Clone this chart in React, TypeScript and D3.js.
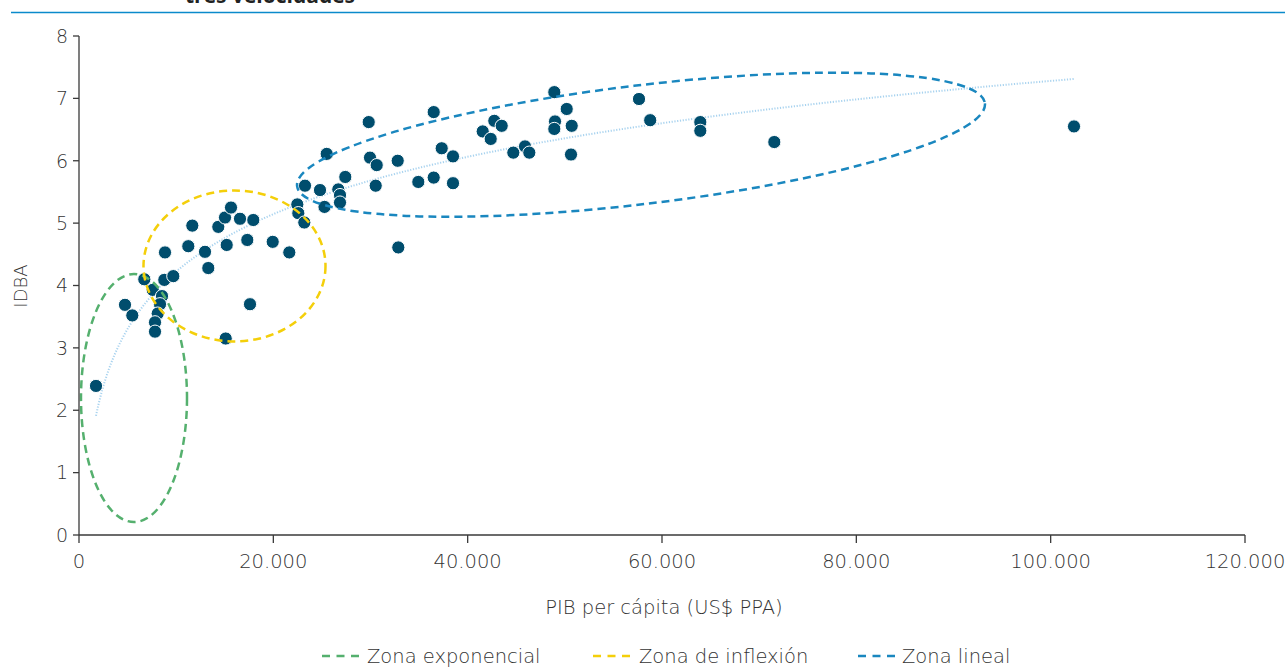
import React from "react";
import * as d3 from "d3";

// GDP per capita (US$ PPP) and IDBA values
const gdpPerCapita: number[] = [
  1750, 4734, 5485, 6720, 7585, 8542, 8336, 8100, 7822, 7822,
  8779, 9705, 8851, 11249, 11661, 12967, 13307, 14336, 15026, 15643,
  15201, 16569, 17321, 17938, 15098, 17599, 19935, 21643, 22467, 22570,
  23187, 23259, 24803, 25266, 25492, 26686, 26861, 26861, 27406, 29815,
  29949, 30638, 30535, 32800, 32861, 34920, 36504, 36504, 37328, 38491,
  38491, 41548, 42371, 42742, 43503, 44697, 45901, 46344, 48917, 48989,
  48917, 50193, 50708, 50635, 57633, 58786, 63942, 63942, 71558, 102401,
];
const idba: number[] = [
  2.39, 3.69, 3.52, 4.10, 3.93, 3.83, 3.70, 3.55, 3.41, 3.26,
  4.09, 4.15, 4.53, 4.63, 4.96, 4.54, 4.28, 4.94, 5.09, 5.25,
  4.65, 5.07, 4.73, 5.05, 3.15, 3.70, 4.70, 4.53, 5.30, 5.16,
  5.01, 5.60, 5.53, 5.26, 6.11, 5.54, 5.45, 5.33, 5.74, 6.62,
  6.05, 5.93, 5.60, 6.00, 4.61, 5.66, 6.78, 5.73, 6.20, 6.07,
  5.64, 6.47, 6.35, 6.64, 6.56, 6.13, 6.23, 6.13, 7.10, 6.63,
  6.51, 6.83, 6.56, 6.10, 6.99, 6.65, 6.62, 6.48, 6.30, 6.55,
];

const xTicks: number[] = [0, 20000, 40000, 60000, 80000, 100000, 120000];
const yTicks: number[] = [0, 1, 2, 3, 4, 5, 6, 7, 8];

// Zone ellipses (centre in data units, radii in data units, rotation in degrees)
const zoneNames: string[] = ["Zona exponencial", "Zona de inflexión", "Zona lineal"];
const zoneCx: number[] = [5660, 16003, 57840];
const zoneCy: number[] = [2.196, 4.313, 6.257];
const zoneRx: number[] = [5455, 9366, 35650];
const zoneRy: number[] = [1.988, 1.21, 0.951];
const zoneRot: number[] = [0, 0, -6.87];
const zoneColors: string[] = ["#55b06e", "#f4cf0a", "#1a87bf"];

const W = 1285;
const H = 667;
const FONT = "'DejaVu Sans', 'Noto Sans', sans-serif";

export default function App() {
  const x = d3.scaleLinear().domain([0, 120000]).range([79, 1245]);
  const y = d3.scaleLinear().domain([0, 8]).range([535, 36]);

  // logarithmic trend (least squares on ln x)
  const lx = gdpPerCapita.map((v) => Math.log(v));
  const mx = d3.mean(lx) as number;
  const my = d3.mean(idba) as number;
  let sxy = 0;
  let sxx = 0;
  lx.forEach((v, i) => {
    sxy += (v - mx) * (idba[i] - my);
    sxx += (v - mx) * (v - mx);
  });
  const b = sxy / sxx;
  const a = my - b * mx;
  const [xmin, xmax] = d3.extent(gdpPerCapita) as [number, number];
  const trendX = d3.range(0, 201).map((i) => xmin * Math.pow(xmax / xmin, i / 200));
  const trendLine = d3
    .line<number>()
    .x((d) => x(d))
    .y((d) => y(a + b * Math.log(d)))(trendX) as string;

  const pxPerX = x(1) - x(0);
  const pxPerY = y(0) - y(1);

  const legendLineX = [322, 593, 858];
  const legendTextX = [367, 639, 902];
  const txt = "#333";

  return (
    <svg
      width={W}
      height={H}
      style={{ position: "absolute", left: 0, top: 0, background: "#fff" }}
      fontFamily={FONT}
    >
      <rect x={0} y={0} width={W} height={H} fill="#fff" />
      {/* title, cut off by the top edge as in the reference */}
      <text x={185} y={3} fontSize={21} fontWeight={700} fill="#222" fontFamily="'Open Sans', sans-serif">
        tres velocidades
      </text>
      <line x1={11} x2={W} y1={12.5} y2={12.5} stroke="#0a8acb" strokeWidth={1.5} />

      {/* trend line */}
      <path d={trendLine} fill="none" stroke="#a9d3ef" strokeWidth={2} strokeDasharray="1.2 1.6" />

      {/* points */}
      {gdpPerCapita.map((g, i) => (
        <circle key={i} cx={x(g)} cy={y(idba[i])} r={6.6} fill="#004d6d" stroke="#fff" strokeWidth={1} />
      ))}

      {/* zone ellipses */}
      {zoneNames.map((n, i) => (
        <ellipse
          key={n}
          cx={x(zoneCx[i])}
          cy={y(zoneCy[i])}
          rx={zoneRx[i] * pxPerX}
          ry={zoneRy[i] * pxPerY}
          transform={`rotate(${zoneRot[i]} ${x(zoneCx[i])} ${y(zoneCy[i])})`}
          fill="none"
          stroke={zoneColors[i]}
          strokeWidth={2.5}
          strokeDasharray="8 5"
        />
      ))}

      {/* axes */}
      <line x1={x(0)} x2={x(0)} y1={y(8)} y2={y(0)} stroke="#3a3a3a" strokeWidth={1.3} />
      <line x1={x(0)} x2={x(120000)} y1={y(0)} y2={y(0)} stroke="#3a3a3a" strokeWidth={1.3} />
      {yTicks.map((t) => (
        <g key={t}>
          <line x1={x(0) - 6} x2={x(0)} y1={y(t)} y2={y(t)} stroke="#3a3a3a" strokeWidth={1.3} />
          <text x={x(0) - 11} y={y(t)} dy="0.36em" textAnchor="end" fontSize={19} fontWeight={200} fill={txt}>
            {t}
          </text>
        </g>
      ))}
      {xTicks.map((t) => (
        <g key={t}>
          <line x1={x(t)} x2={x(t)} y1={y(0)} y2={y(0) + 8} stroke="#3a3a3a" strokeWidth={1.3} />
          <text x={x(t)} y={567.5} textAnchor="middle" fontSize={19.5} fontWeight={200} fill={txt}>
            {d3.format(",")(t).replace(/,/g, ".")}
          </text>
        </g>
      ))}
      <text x={664} y={614} textAnchor="middle" fontSize={19.5} fontWeight={200} fill={txt}>
        PIB per cápita (US$ PPA)
      </text>
      <text
        transform="translate(27,286) rotate(-90)"
        textAnchor="middle"
        fontSize={18}
        fontWeight={200}
        fill={txt}
      >
        IDBA
      </text>

      {/* legend */}
      {zoneNames.map((n, i) => (
        <g key={n}>
          <line
            x1={legendLineX[i]}
            x2={legendLineX[i] + 37}
            y1={656}
            y2={656}
            stroke={zoneColors[i]}
            strokeWidth={2.5}
            strokeDasharray="8 6.5"
          />
          <text x={legendTextX[i]} y={662.5} fontSize={19.5} fontWeight={200} fill={txt}>
            {n}
          </text>
        </g>
      ))}
    </svg>
  );
}
